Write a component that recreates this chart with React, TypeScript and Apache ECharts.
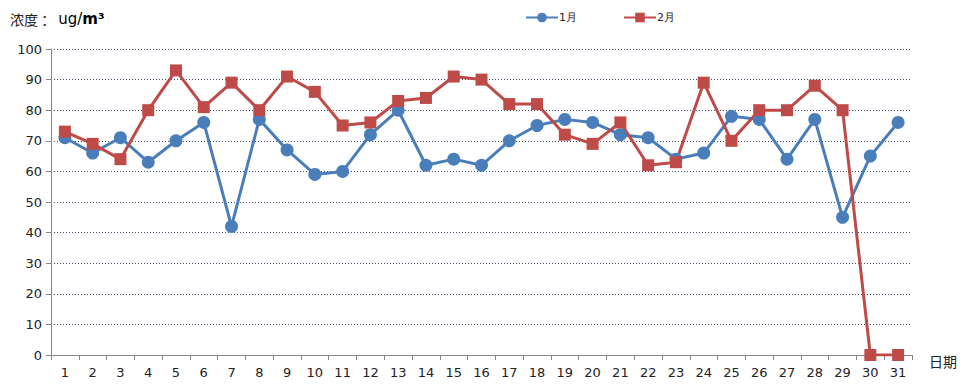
import React, { useEffect, useRef } from "react";
import * as echarts from "echarts";

const days = Array.from({ length: 31 }, (_, i) => String(i + 1));
const jan = [71, 66, 71, 63, 70, 76, 42, 77, 67, 59, 60, 72, 80, 62, 64, 62, 70, 75, 77, 76, 72, 71, 64, 66, 78, 77, 64, 77, 45, 65, 76];
const feb = [73, 69, 64, 80, 93, 81, 89, 80, 91, 86, 75, 76, 83, 84, 91, 90, 82, 82, 72, 69, 76, 62, 63, 89, 70, 80, 80, 88, 80, 0, 0];
const seriesNames = ["1月", "2月"];

const FONT = "DejaVu Sans";

export default function App() {
  const ref = useRef<HTMLDivElement>(null);
  useEffect(() => {
    const chart = echarts.init(ref.current!, null, { renderer: "svg" });
    chart.setOption({
      animation: false,
      textStyle: { fontFamily: FONT },
      title: {
        text: "{a|浓度 ： }{b|ug/}{c|m³}",
        left: -3,
        top: -2,
        textStyle: {
          fontWeight: "normal",
          rich: {
            a: { fontSize: 14, color: "#222", fontWeight: "normal", fontFamily: "Noto Sans CJK SC" },
            b: { fontSize: 15, color: "#000", fontWeight: "normal", fontFamily: FONT },
            c: { fontSize: 15, color: "#000", fontWeight: "bold", fontFamily: FONT },
          },
        },
      },
      legend: {
        top: -1,
        left: 512,
        itemWidth: 32,
        itemHeight: 12,
        itemGap: 46,
        textStyle: { fontSize: 11, color: "#222", fontFamily: FONT, padding: [0, 0, 0, -4] },
        data: seriesNames,
      },
      grid: { left: 43, right: 50, top: 41, bottom: 21, containLabel: false },
      xAxis: {
        type: "category",
        data: days,
        boundaryGap: true,
        name: "日期",
        nameLocation: "end",
        nameGap: 17,
        nameTextStyle: { fontSize: 14, color: "#222", fontFamily: "Noto Sans CJK SC", verticalAlign: "top", lineHeight: 12 },
        axisLine: { lineStyle: { color: "#868686", width: 1 } },
        axisTick: { show: true, alignWithLabel: false, length: 5, lineStyle: { color: "#868686" } },
        axisLabel: { fontSize: 13, color: "#222", margin: 11 },
        splitLine: { show: false },
      },
      yAxis: {
        type: "value",
        min: 0,
        max: 100,
        interval: 10,
        axisLine: { show: true, lineStyle: { color: "#868686", width: 1 } },
        axisTick: { show: true, length: 5, lineStyle: { color: "#868686" } },
        axisLabel: { fontSize: 13, color: "#222", margin: 9 },
        splitLine: { show: true, lineStyle: { color: "#3e4f70", type: [1, 2], width: 1 } },
      },
      series: [
        {
          name: seriesNames[0],
          type: "line",
          data: jan,
          symbol: "circle",
          symbolSize: 13,
          lineStyle: { color: "#4a7ebb", width: 3 },
          itemStyle: { color: "#4a7ebb" },
        },
        {
          name: seriesNames[1],
          type: "line",
          data: feb,
          symbol: "rect",
          symbolSize: 12,
          lineStyle: { color: "#be4b48", width: 3 },
          itemStyle: { color: "#be4b48" },
        },
      ],
    });
    return () => chart.dispose();
  }, []);
  return <div ref={ref} style={{ width: 954, height: 371 }} />;
}
